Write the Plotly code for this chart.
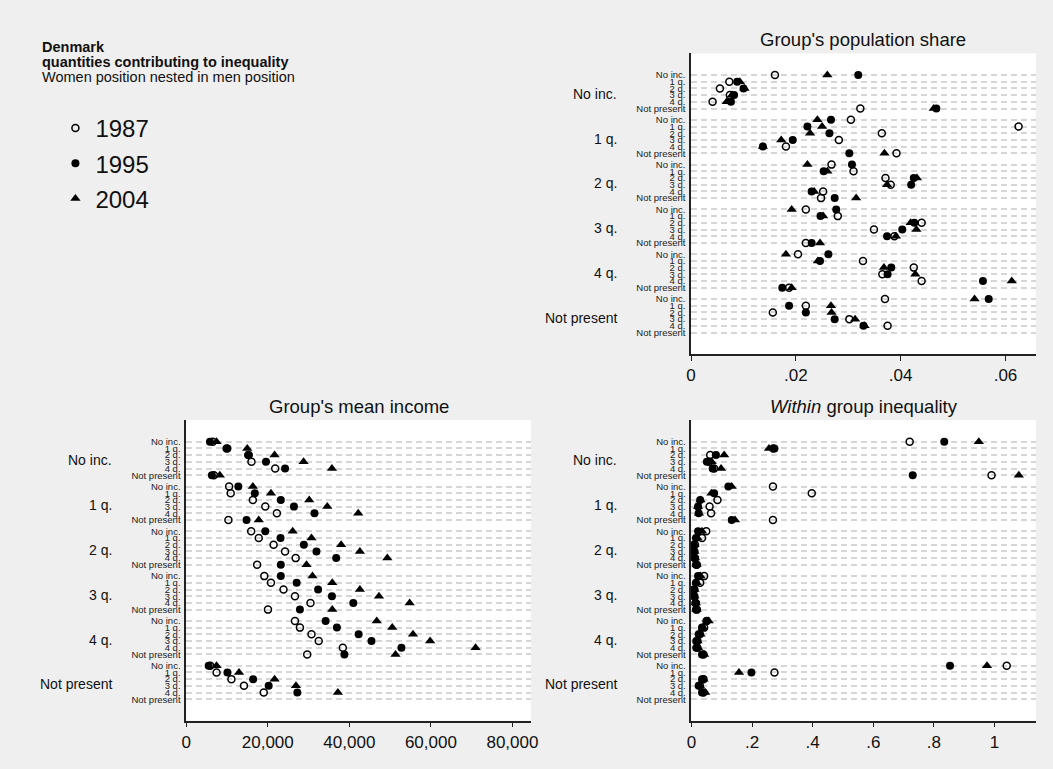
import plotly.graph_objects as go

W, H = 1053, 769

groups = ["No inc.", "1 q.", "2 q.", "3 q.", "4 q.", "Not present"]
subs = ["No inc.", "1 q.", "2 q.", "3 q.", "4 q.", "Not present"]
years = ["1987", "1995", "2004"]

# ---- Group's population share (men group x women group, 36 rows) ----
share_1987 = [0.0160, 0.0073, 0.0055, 0.0074, 0.0041, 0.0323,
              0.0305, 0.0625, 0.0364, 0.0282, 0.0181, 0.0392,
              0.0268, 0.0310, 0.0371, 0.0381, 0.0252, 0.0248,
              0.0219, 0.0280, 0.0440, 0.0349, 0.0388, 0.0219,
              0.0204, 0.0328, 0.0425, 0.0365, 0.0440, 0.0187,
              0.0370, 0.0219, 0.0156, 0.0302, 0.0375, None]
share_1995 = [0.0319, 0.0088, 0.0100, 0.0082, 0.0076, 0.0468,
              0.0267, 0.0222, 0.0264, 0.0194, 0.0137, 0.0302,
              0.0307, 0.0253, 0.0425, 0.0420, 0.0230, 0.0274,
              0.0277, 0.0247, 0.0426, 0.0403, 0.0374, 0.0230,
              0.0262, 0.0246, 0.0382, 0.0375, 0.0557, 0.0174,
              0.0568, 0.0187, 0.0219, 0.0274, 0.0329, None]
share_2004 = [0.0260, 0.0093, 0.0102, 0.0078, 0.0068, 0.0463,
              0.0241, 0.0250, 0.0227, 0.0172, 0.0137, 0.0369,
              0.0222, 0.0260, 0.0431, 0.0374, 0.0235, 0.0315,
              0.0192, 0.0252, 0.0419, 0.0430, 0.0391, 0.0246,
              0.0181, 0.0242, 0.0368, 0.0428, 0.0612, 0.0192,
              0.0541, 0.0267, 0.0268, 0.0313, 0.0331, None]

# ---- Group's mean income ----
income_1987 = [6500, 9900, 15200, 16000, 21820, 6800,
               10520, 10910, 16340, 19390, 22230, 10350,
               15930, 17790, 21430, 24240, 26840, 17380,
               19150, 20780, 23860, 26670, 30470, 20050,
               26670, 27880, 30720, 32490, 38400, 29670,
               5900, 7440, 11080, 14160, 19010, None]
income_1995 = [5820, 10110, 15370, 19560, 24240, 6300,
               12780, 16820, 23200, 26420, 31450, 14790,
               19390, 23130, 28850, 31930, 36780, 23200,
               23200, 27080, 32340, 35730, 40970, 27880,
               34180, 36950, 42280, 45430, 52780, 38790,
               5500, 10110, 16410, 20220, 27250, None]
income_2004 = [7440, 14960, 21670, 28780, 35730, 8240,
               16340, 20780, 30160, 34590, 42180, 17790,
               26110, 30720, 37990, 42590, 49310, 29500,
               30960, 35810, 42590, 47270, 54790, 35810,
               46720, 50520, 55610, 59810, 70960, 51320,
               7440, 12950, 21670, 26910, 37190, None]

# ---- Within group inequality ----
within_1987 = [0.720, 0.270, 0.062, 0.058, 0.075, 0.990,
               0.269, 0.397, 0.086, 0.060, 0.065, 0.269,
               0.049, 0.035, 0.012, 0.010, 0.012, 0.018,
               0.042, 0.029, 0.010, 0.010, 0.015, 0.018,
               0.050, 0.042, 0.028, 0.020, 0.020, 0.040,
               1.040, 0.274, 0.040, 0.028, 0.040, None]
within_1995 = [0.834, 0.274, 0.081, 0.051, 0.070, 0.730,
               0.122, 0.075, 0.029, 0.022, 0.024, 0.133,
               0.022, 0.015, 0.008, 0.008, 0.010, 0.015,
               0.022, 0.015, 0.008, 0.008, 0.013, 0.015,
               0.051, 0.035, 0.024, 0.016, 0.016, 0.035,
               0.853, 0.198, 0.035, 0.024, 0.035, None]
within_2004 = [0.948, 0.256, 0.108, 0.067, 0.098, 1.080,
               0.133, 0.066, 0.030, 0.022, 0.025, 0.144,
               0.035, 0.020, 0.010, 0.010, 0.012, 0.017,
               0.030, 0.018, 0.010, 0.010, 0.015, 0.017,
               0.057, 0.038, 0.030, 0.020, 0.022, 0.042,
               0.975, 0.157, 0.040, 0.028, 0.046, None]

income_ticks = [0, 20000, 40000, 60000, 80000]
income_ticktext = ["0", "20,000", "40,000", "60,000", "80,000"]
share_ticks = [0, 0.02, 0.04, 0.06]
share_ticktext = ["0", ".02", ".04", ".06"]
within_ticks = [0, 0.2, 0.4, 0.6, 0.8, 1.0]
within_ticktext = ["0", ".2", ".4", ".6", ".8", "1"]

# ---- layout helpers ----
GSTEP = 6.687
ypos = [g * GSTEP + j for g in range(6) for j in range(6)]
ylabels = [s for g in range(6) for s in subs]
yrange = [41.64, -3.24]

FONT = "Liberation Sans, Arial, Helvetica, sans-serif"
BG = "#efefef"

symbols = {"1987": ("circle-open", 7), "1995": ("circle", 8), "2004": ("triangle-up", 9)}

panels = [
    ("x", "y", {"1987": share_1987, "1995": share_1995, "2004": share_2004},
     (694.0, 1042.7), (53.3, 354.0), [0, 0.06579], share_ticks, share_ticktext,
     "Group's population share"),
    ("x2", "y2", {"1987": income_1987, "1995": income_1995, "2004": income_2004},
     (183.3, 532.0), (420.0, 720.7), [0, 84530], income_ticks, income_ticktext,
     "Group's mean income"),
    ("x3", "y3", {"1987": within_1987, "1995": within_1995, "2004": within_2004},
     (694.3, 1042.7), (420.0, 720.7), [0, 1.136], within_ticks, within_ticktext,
     "<i>Within</i> group inequality"),
]

fig = go.Figure()
annotations = []
layout_axes = {}

for pi, (xa, ya, data, xd, yd, xr, tv, tt, title) in enumerate(panels):
    for yr in years:
        sym, sz = symbols[yr]
        fig.add_trace(go.Scatter(
            x=data[yr], y=ypos, xaxis=xa, yaxis=ya, mode="markers", name=yr,
            legendgroup=yr, showlegend=(pi == 0),
            marker=dict(symbol=sym, size=sz, color="black",
                        line=dict(color="black", width=1.5 if sym == "circle-open" else 0)),
            cliponaxis=False,
        ))
    xkey = "xaxis" + xa[1:]
    ykey = "yaxis" + ya[1:]
    layout_axes[xkey] = dict(
        domain=[xd[0] / W, xd[1] / W], range=xr, anchor=ya,
        tickmode="array", tickvals=tv, ticktext=tt,
        ticks="outside", ticklen=5, tickwidth=1.2, tickcolor="#222",
        showline=True, linecolor="#222", linewidth=1.5, showgrid=False, zeroline=False,
        tickfont=dict(family=FONT, size=17, color="#111"),
    )
    layout_axes[ykey] = dict(
        domain=[1 - yd[1] / H, 1 - yd[0] / H], range=yrange, anchor=xa,
        tickmode="array", tickvals=ypos, ticktext=ylabels,
        ticks="", showline=True, linecolor="#222", linewidth=1.5,
        showgrid=True, gridcolor="#d6d6d6", gridwidth=1.5, griddash="6px,4px",
        zeroline=False, tickfont=dict(family=FONT, size=9.5, color="#222"),
        ticklabelstandoff=2,
    )
    for g, name in enumerate(groups):
        annotations.append(dict(
            xref="paper", yref=ya, x=(xd[0] - 73) / W, y=g * GSTEP + 2.5 + 0.3,
            text=name, showarrow=False, xanchor="right", yanchor="middle",
            font=dict(family=FONT, size=14, color="#111"),
        ))
    annotations.append(dict(
        xref="paper", yref="paper", x=(xd[0] + xd[1]) / 2 / W, y=1 - (yd[0] - 14) / H,
        text=title, showarrow=False, xanchor="center", yanchor="middle",
        font=dict(family=FONT, size=18.5, color="#111"),
    ))

header = [("<b>Denmark</b>", 47), ("<b>quantities contributing to inequality</b>", 62),
          ("Women position nested in men position", 77)]
for txt, py in header:
    annotations.append(dict(
        xref="paper", yref="paper", x=35 / W, y=1 - py / H, text=txt, showarrow=False,
        xanchor="left", yanchor="middle", font=dict(family=FONT, size=14.5, color="#111"),
    ))

fig.update_layout(
    width=W, height=H, margin=dict(l=0, r=0, t=0, b=0),
    paper_bgcolor=BG, plot_bgcolor="white",
    showlegend=True,
    legend=dict(x=51 / W, y=1 - 106 / H, xanchor="left", yanchor="top",
                bgcolor="rgba(0,0,0,0)", font=dict(family=FONT, size=24, color="#111"),
                tracegroupgap=1, itemsizing="trace"),
    annotations=annotations,
    **layout_axes,
)

fig.write_html("out.html")
